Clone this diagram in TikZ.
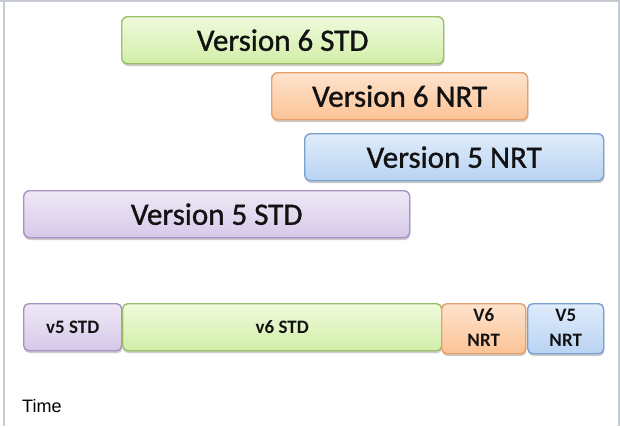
\documentclass[tikz,border=0pt]{standalone}
\usepackage{fontspec}
\setmainfont{Carlito}
\newfontfamily\heavyfont[FakeBold=1.1]{Carlito}
\newfontfamily\arialfont{Liberation Sans}
\usetikzlibrary{shadows}
\definecolor{framec}{HTML}{C6CAD3}
\definecolor{gtop}{HTML}{EFFADC}
\definecolor{gbot}{HTML}{D1EEA8}
\definecolor{gline}{HTML}{9CBF68}
\definecolor{otop}{HTML}{FEE3CD}
\definecolor{obot}{HTML}{FBC396}
\definecolor{oline}{HTML}{E7A06A}
\definecolor{btop}{HTML}{DFECFB}
\definecolor{bbot}{HTML}{B9D3F2}
\definecolor{bline}{HTML}{7AA2D0}
\definecolor{ptop}{HTML}{EFE8F6}
\definecolor{pbot}{HTML}{D6C9E9}
\definecolor{pline}{HTML}{A792C4}
\definecolor{txt}{HTML}{121212}
\newcommand\lowtext[2]{\raisebox{-#1}{#2}}
\begin{document}
\begin{tikzpicture}[x=1pt,y=-1pt,
  bar/.style={rounded corners=6pt, line width=1.4pt, inner sep=0pt, anchor=north west,
    text=txt, drop shadow={opacity=0.4, shadow xshift=0.6pt, shadow yshift=-2.4pt}},
  bigbar/.style={bar, minimum height=47pt, font=\heavyfont\fontsize{31}{33}\selectfont},
  smallbar/.style={bar, rounded corners=5pt, minimum height=47pt,
    font=\fontsize{19}{25}\selectfont\bfseries},
  green/.style={draw=gline, top color=gtop, bottom color=gbot},
  orange/.style={draw=oline, top color=otop, bottom color=obot},
  blue/.style={draw=bline, top color=btop, bottom color=bbot},
  purple/.style={draw=pline, top color=ptop, bottom color=pbot},
]
\useasboundingbox (0,0) rectangle (620,426);
\fill[white] (0,0) rectangle (620,426);
\fill[framec] (0,0) rectangle (620,2);
\fill[framec] (3,0) rectangle (5,426);
\fill[framec] (618,0) rectangle (620,426);

\node[bigbar, green,  minimum width=322pt] (v6std) at (121,16)  {\lowtext{3pt}{Version 6 STD}};
\node[bigbar, orange, minimum width=256pt] (v6nrt) at (271,72)  {\lowtext{3pt}{Version 6 NRT}};
\node[bigbar, blue,   minimum width=299pt] (v5nrt) at (304,133) {\lowtext{3pt}{Version 5 NRT}};
\node[bigbar, purple, minimum width=386pt] (v5std) at (23,190)  {\lowtext{3pt}{Version 5 STD}};

\node[smallbar, purple, minimum width=98pt]  (sv5std) at (23,303)  {\lowtext{1pt}{v5 STD}};
\node[smallbar, green,  minimum width=319pt] (sv6std) at (122,303) {\lowtext{1pt}{v6 STD}};
\node[smallbar, orange, minimum width=84pt]  (sv6nrt) at (441,303) {\lowtext{3pt}{\begin{tabular}{@{}c@{}}V6\\NRT\end{tabular}}};
\node[smallbar, blue,   minimum width=76pt]  (sv5nrt) at (527,303) {\lowtext{3pt}{\begin{tabular}{@{}c@{}}V5\\NRT\end{tabular}}};

\node[anchor=base west, inner sep=0pt, font=\arialfont\fontsize{18}{21}\selectfont] (time) at (22,412) {Time};
\end{tikzpicture}
\end{document}
